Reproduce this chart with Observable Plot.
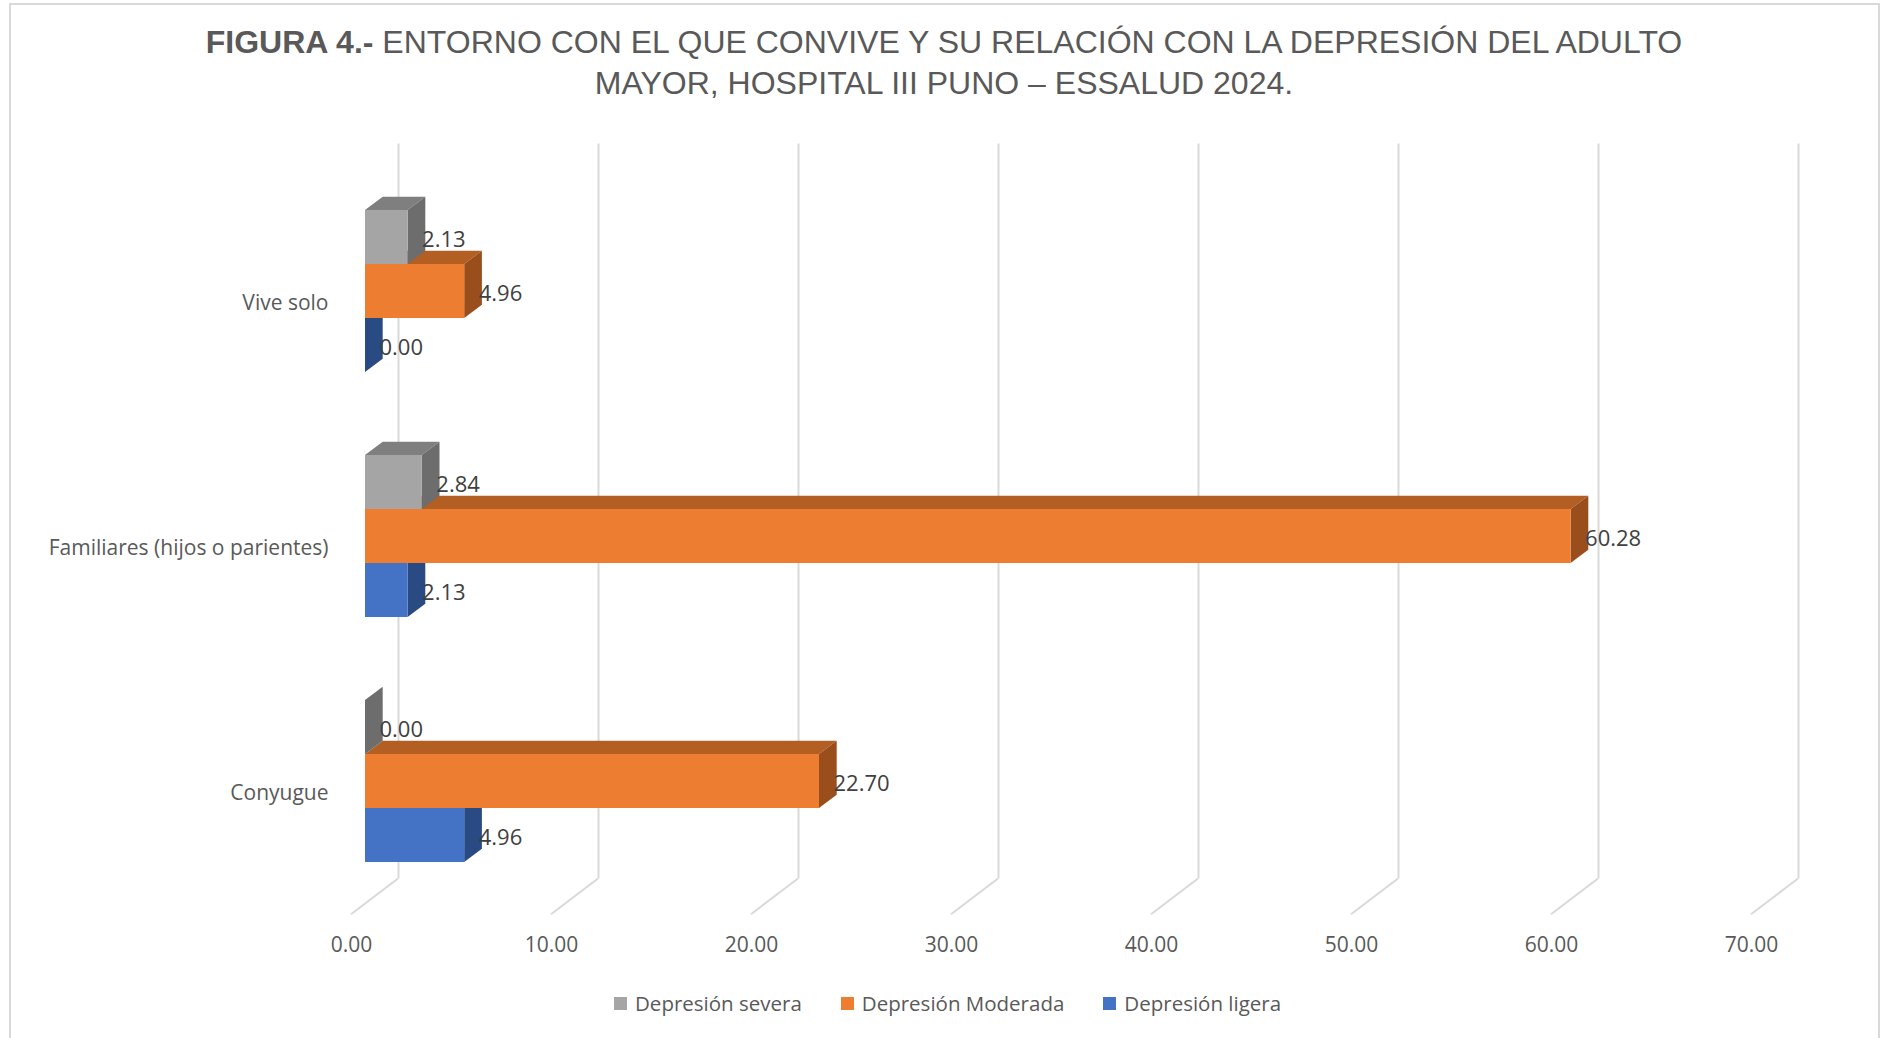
<!DOCTYPE html>
<html><head><meta charset="utf-8">
<script src="https://cdn.jsdelivr.net/npm/d3@7"></script>
<script src="https://cdn.jsdelivr.net/npm/@observablehq/plot@0.6"></script>
<style>
html,body{margin:0;padding:0;background:#fff;}
body{width:1885px;height:1038px;position:relative;overflow:hidden;font-family:"Open Sans",sans-serif;}
#frame{position:absolute;left:9px;top:3px;width:1871px;height:1100px;border:2px solid #d9d9d9;box-sizing:border-box;}
#title{position:absolute;left:0;top:22px;width:1885px;padding-left:3px;box-sizing:border-box;text-align:center;font-family:"Liberation Sans",Arial,sans-serif;font-size:32px;line-height:41px;color:#595959;}
#title b{font-weight:bold;}
#chart{position:absolute;left:0;top:120px;}
#legend{position:absolute;left:614px;top:989px;display:flex;align-items:center;font-family:"Open Sans",sans-serif;font-size:20.5px;line-height:28px;color:#595959;}
#legend .item{display:flex;align-items:center;margin-right:39px;}
#legend .sw{width:13px;height:13px;margin-right:8px;}
</style>
</head><body>
<div id="frame"></div>
<div id="title"><b>FIGURA 4.-</b> ENTORNO CON EL QUE CONVIVE Y SU RELACIÓN CON LA DEPRESIÓN DEL ADULTO<br>MAYOR, HOSPITAL III PUNO – ESSALUD 2024.</div>
<div id="chart"></div>
<div id="legend"></div>
<script>
// ---- data ----
const categories = ["Vive solo", "Familiares (hijos o parientes)", "Conyugue"];
const seriesNames = ["Depresión severa", "Depresión Moderada", "Depresión ligera"];
const severa = [2.13, 2.84, 0.00];
const moderada = [4.96, 60.28, 22.70];
const ligera = [0.00, 2.13, 4.96];
const xTicks = [0, 10, 20, 30, 40, 50, 60, 70];

// ---- styles ----
const frontColors = ["#a5a5a5", "#ed7d31", "#4472c4"];
const topColors = ["#7f7f7f", "#b35e22", "#3359a0"];
const sideColors = ["#6d6d6d", "#9a4e1b", "#2a4a84"];
const DX = 17.7, DY = 13.3;          // bar depth (oblique projection)
const LABEL_DX = 14, LABEL_DY = 2;   // data label offset from bar end
const FRONT = {dx: -14, dy: 10.7};    // floor front edge relative to bar plane
const BACK = {dx: 33, dy: -25};       // back wall relative to bar plane

const seriesValues = [severa, moderada, ligera];
const rows = [];
categories.forEach((c, i) => {
  for (let j = seriesNames.length - 1; j >= 0; j--) {
    rows.push({category: c, series: seriesNames[j], sj: j, value: seriesValues[j][i]});
  }
});

function bars3d(index, scales, values, dims) {
  const g = d3.create("svg:g");
  const sub = scales.y.bandwidth() / seriesNames.length;
  for (const i of index) {
    const d = rows[i];
    const x0 = scales.x(0), x1 = scales.x(d.value);
    const ya = scales.y(d.category) + d.sj * sub, yb = ya + sub;
    g.append("path").attr("d", `M${x0},${ya}L${x1},${ya}L${x1 + DX},${ya - DY}L${x0 + DX},${ya - DY}Z`).attr("fill", topColors[d.sj]);
    g.append("path").attr("d", `M${x1},${ya}L${x1},${yb}L${x1 + DX},${yb - DY}L${x1 + DX},${ya - DY}Z`).attr("fill", sideColors[d.sj]);
    if (x1 > x0) g.append("rect").attr("x", x0).attr("y", ya).attr("width", x1 - x0).attr("height", sub).attr("fill", frontColors[d.sj]);
  }
  return g.node();
}

function floorLines(index, scales, values, dims) {
  const g = d3.create("svg:g");
  const yb = dims.height - dims.marginBottom;
  for (const i of index) {
    const x = scales.x(xTicks[i]);
    g.append("line")
      .attr("x1", x + FRONT.dx).attr("y1", yb + FRONT.dy)
      .attr("x2", x + BACK.dx).attr("y2", yb + BACK.dy)
      .attr("stroke", "#d9d9d9").attr("stroke-width", 2);
  }
  return g.node();
}

function labelRender(index, scales, values, dims, ctx, next) {
  const bw = scales.y.bandwidth();
  const sub = bw / seriesNames.length;
  const X = Float64Array.from(rows, d => scales.x(d.value) + LABEL_DX);
  const Y = Float64Array.from(rows, d => scales.y(d.category) + (d.sj + 0.5) * sub - bw / 2 + LABEL_DY);
  return next(index, scales, {...values, x: X, y: Y}, dims, ctx);
}

const chart = Plot.plot({
  width: 1885,
  height: 840,
  marginLeft: 365,
  marginRight: 120,
  marginTop: 48.5,
  marginBottom: 56.5,
  style: {fontFamily: "'Open Sans', sans-serif", fontSize: "21px", background: "transparent", color: "#595959"},
  x: {domain: [0, 70]},
  y: {type: "band", domain: categories, paddingInner: 0.3388, paddingOuter: 0.1694},
  marks: [
    Plot.ruleX(xTicks, {x: d => d, dx: BACK.dx, dy: BACK.dy, stroke: "#d9d9d9", strokeWidth: 2}),
    Plot.ruleX(xTicks, {x: d => d, render: floorLines}),
    Plot.barX(rows, {x1: d => 0, x2: "value", y: "category", render: bars3d}),
    Plot.text(rows, {x: "value", y: "category", text: d => d.value.toFixed(2), textAnchor: "start", fill: "#404040", fontSize: 22, render: labelRender}),
    Plot.axisX({ticks: xTicks, tickSize: 0, tickPadding: 33, dx: FRONT.dx, tickFormat: d => d.toFixed(2), label: null}),
    Plot.axisY({tickSize: 0, tickPadding: 37, dy: 12, label: null})
  ]
});
document.getElementById("chart").appendChild(chart);

const legend = document.getElementById("legend");
seriesNames.forEach((s, j) => {
  const item = document.createElement("div");
  item.className = "item";
  const sw = document.createElement("span");
  sw.className = "sw";
  sw.style.background = frontColors[j];
  const t = document.createElement("span");
  t.textContent = s;
  item.appendChild(sw); item.appendChild(t);
  legend.appendChild(item);
});
</script>
</body></html>
